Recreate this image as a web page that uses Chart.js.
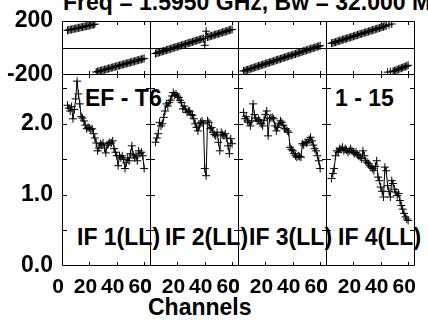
<!DOCTYPE html>
<html>
<head>
<meta charset="utf-8">
<script src="https://cdn.jsdelivr.net/npm/chart.js@4.4.1/dist/chart.umd.min.js"></script>
<style>
body { margin: 0; background: #fff; width: 428px; height: 320px; overflow: hidden; position: relative;
       font-family: 'Liberation Sans', Arial, sans-serif; font-weight: bold; color: #000; }
canvas { position: absolute; }
.lbl { position: absolute; font-size: 23px; line-height: 23px; white-space: nowrap; }
</style>
</head>
<body>
<div class="lbl" style="left:63px;top:-9px">Freq = 1.5950 GHz, Bw = 32.000 MHz</div>
<div class="lbl" style="left:85px;top:87px">EF - T6</div>
<div class="lbl" style="left:335px;top:87px">1 - 15</div>
<div class="lbl" id="if1" style="left:77px;top:226px"></div>
<div class="lbl" id="if2" style="left:165px;top:226px"></div>
<div class="lbl" id="if3" style="left:249px;top:226px"></div>
<div class="lbl" id="if4" style="left:338px;top:226px"></div>
<div class="lbl" style="left:148px;top:296px">Channels</div>
<script>
const channels = [4, 5, 6, 7, 8, 9, 10, 11, 12, 13, 14, 15, 16, 17, 18, 19, 20, 21, 22, 23, 24, 25, 26, 27, 28, 29, 30, 31, 32,
                  33, 34, 35, 36, 37, 38, 39, 40, 41, 42, 43, 44, 45, 46, 47, 48, 49, 50, 51, 52, 53, 54, 55, 56, 57, 58, 59, 60];

const ifNames = ['IF 1(LL)', 'IF 2(LL)', 'IF 3(LL)', 'IF 4(LL)'];

// phase in degrees, channel 4..60
const phaseIF1 = [131, 133, 136, 137, 140, 142, 145, 146, 149, 151, 154, 155, 158, 160, 163, 164, 167, 169, 172, 174, 177,
                  -178, -175, -172, -170, -166, -164, -161, -158, -155, -152, -150, -146, -144, -141, -138, -135, -132, -129,
                  -127, -123, -121, -118, -115, -112, -109, -107, -103, -101, -98, -95, -92, -89, -86, -84, -80, -77];
const phaseIF2 = [-41, -38, -35, -31, -28, -25, -22, -19, -15, -12, -9, -6, -3, 1, 4, 7, 10, 13, 17, 20, 23, 26, 29, 33, 36,
                  39, 42, 45, 49, 52, 55, 58, 61, 65, 68, 71, 20, 125, 81, 84, 87, 90, 93, 97, 100, 103, 106, 109, 113, 116,
                  119, 122, 125, 129, 132, 135, 138];
const phaseIF3 = [-171, -168, -164, -161, -158, -154, -151, -148, -144, -141, -137, -134, -131, -127, -124, -121, -117, -114,
                  -111, -107, -104, -101, -97, -94, -90, -87, -84, -80, -77, -74, -70, -67, -64, -60, -57, -54, -50, -47, -44,
                  -40, -37, -33, -30, -27, -23, -20, -17, -13, -10, -7, -3, 0, 3, 7, 10, 13, 17];
const phaseIF4 = [35, 38, 41, 44, 48, 51, 54, 57, 61, 64, 67, 70, 74, 77, 80, 83, 87, 90, 93, 96, 100, 103, 106, 109, 113, 116,
                  119, 122, 126, 129, 132, 135, 139, 142, 145, 148, 152, 155, 158, 161, 165, -179, 172, -176, 178, -172, -169,
                  -165, -161, -157, -153, -149, -145, -141, -137, -133, -128];

// amplitude, channel 4..60
const ampIF1 = [2.26, 2.22, 2.18, 2.24, 2.07, 2.20, 2.35, 2.60, 2.42, 2.28, 2.10, 2.08, 2.04, 1.98, 1.93, 1.95, 1.94, 1.92,
                1.93, 1.86, 1.80, 1.73, 1.62, 1.66, 1.72, 1.70, 1.73, 1.66, 1.59, 1.70, 1.72, 1.74, 1.73, 1.76, 1.65, 1.60,
                1.55, 1.41, 1.55, 1.52, 1.55, 1.50, 1.37, 1.45, 1.52, 1.48, 1.58, 1.69, 1.56, 1.52, 1.55, 1.48, 1.62, 1.58,
                1.60, 1.55, 1.37];
const ampIF2 = [1.74, 1.80, 1.86, 2.02, 1.97, 2.00, 2.09, 2.18, 2.28, 2.25, 2.30, 2.33, 2.39, 2.44, 2.40, 2.42, 2.39, 2.37,
                2.33, 2.30, 2.21, 2.25, 2.20, 2.16, 2.18, 2.18, 2.13, 2.12, 2.07, 2.00, 1.95, 1.90, 1.97, 2.02, 2.04, 2.00,
                1.37, 1.27, 2.04, 2.02, 1.93, 1.95, 1.88, 1.85, 1.83, 1.88, 1.74, 1.62, 1.88, 1.85, 1.83, 1.86, 1.80, 1.69,
                1.58, 1.79, 1.72];
const ampIF3 = [2.16, 2.07, 2.10, 2.04, 2.02, 1.97, 2.04, 2.28, 2.13, 2.08, 2.04, 2.06, 2.04, 2.00, 1.97, 2.05, 2.13, 2.18,
                1.83, 2.07, 2.08, 2.09, 2.07, 1.97, 1.90, 1.95, 2.00, 2.04, 2.02, 1.98, 1.93, 1.93, 1.90, 1.88, 1.67, 1.64,
                1.62, 1.58, 1.55, 1.53, 1.55, 1.54, 1.53, 1.72, 1.70, 1.74, 1.73, 1.74, 1.78, 1.81, 1.76, 1.70, 1.65, 1.62,
                1.55, 1.48, 1.37];
const ampIF4 = [1.23, 1.30, 1.37, 1.55, 1.62, 1.60, 1.65, 1.64, 1.67, 1.62, 1.65, 1.63, 1.60, 1.62, 1.65, 1.62, 1.60, 1.58,
                1.60, 1.57, 1.55, 1.53, 1.51, 1.62, 1.55, 1.48, 1.46, 1.44, 1.41, 1.39, 1.37, 1.34, 1.40, 1.48, 1.25, 1.20,
                1.11, 1.05, 0.97, 1.39, 1.34, 1.13, 1.05, 0.97, 1.20, 1.16, 1.08, 1.04, 0.99, 1.02, 0.92, 0.85, 0.80, 0.74,
                0.69, 0.66, 0.64];

const chanTicks = [0, 20, 40, 60];
const phaseTicks = [-200, 200];
const ampTicks = [0, 1, 2];
const ampMinorTicks = [0.5, 1, 1.5, 2, 2.5];

const phases = [phaseIF1, phaseIF2, phaseIF3, phaseIF4];
const amps = [ampIF1, ampIF2, ampIF3, ampIF4];

const FONT = { family: "'Liberation Sans', Arial, sans-serif", weight: 'bold', size: 23 };
const XFONT = { family: "'Liberation Sans', Arial, sans-serif", weight: 'bold', size: 21 };
const PAD = 24;
const colLeft = [62, 150, 238, 326];
const colW = 89;
const rows = [
    { top: 21, h: 54, min: -200, max: 200, ticks: phaseTicks, minor: [], zero: true, fmt: v => String(v) },
    { top: 74, h: 192, min: 0, max: 2.7, ticks: ampTicks, minor: ampMinorTicks, zero: false, fmt: v => v.toFixed(1) }
];
const YAXW = 62, XAXH = 30;

// box around each panel, inward tick marks, zero line for phase
const framePlugin = {
    id: 'frame',
    afterDraw(chart, args, o) {
        const { ctx, chartArea: a } = chart;
        const x = chart.scales.x, y = chart.scales.y;
        ctx.save();
        ctx.strokeStyle = '#000';
        ctx.lineWidth = 1;
        ctx.beginPath();
        ctx.rect(a.left + 0.5, a.top + 0.5, a.right - a.left - 1, a.bottom - a.top - 1);
        o.xMarks.forEach(v => {
            const px = Math.round(x.getPixelForValue(v)) + 0.5;
            ctx.moveTo(px, a.top); ctx.lineTo(px, a.top + 4);
            ctx.moveTo(px, a.bottom); ctx.lineTo(px, a.bottom - 4);
        });
        o.yMarks.forEach(v => {
            const py = Math.round(y.getPixelForValue(v)) + 0.5;
            ctx.moveTo(a.left, py); ctx.lineTo(a.left + 5, py);
            ctx.moveTo(a.right, py); ctx.lineTo(a.right - 5, py);
        });
        if (o.zero) {
            const py = Math.round(y.getPixelForValue(0)) + 0.5;
            ctx.moveTo(a.left, py); ctx.lineTo(a.right, py);
        }
        ctx.stroke();
        ctx.restore();
    }
};

function makePanel(col, r) {
    const row = rows[r];
    const isLeft = col === 0, isBottom = r === 1;
    const values = r === 0 ? phases[col] : amps[col];
    const cv = document.createElement('canvas');
    const w = colW + 2 * PAD + (isLeft ? YAXW : 0);
    const h = row.h + 2 * PAD + (isBottom ? XAXH : 0);
    cv.width = w; cv.height = h;
    cv.style.left = (colLeft[col] - PAD - (isLeft ? YAXW : 0)) + 'px';
    cv.style.top = (row.top - PAD) + 'px';
    document.body.appendChild(cv);

    new Chart(cv, {
        type: 'line',
        data: {
            datasets: [{
                data: channels.map((c, i) => ({ x: c, y: values[i] })),
                borderColor: '#000',
                borderWidth: 1,
                tension: 0,
                pointStyle: 'cross',
                pointRadius: 4,
                pointBorderWidth: 1,
                pointBorderColor: '#000',
                segment: {
                    // no line across a phase wrap
                    borderColor: ctx => Math.abs(ctx.p1.parsed.y - ctx.p0.parsed.y) > 180 ? 'rgba(0,0,0,0)' : '#000'
                }
            }]
        },
        options: {
            responsive: false,
            animation: false,
            devicePixelRatio: 1,
            layout: { padding: PAD },
            plugins: {
                legend: { display: false },
                tooltip: { enabled: false },
                frame: { xMarks: [20, 40, 60], yMarks: row.minor, zero: row.zero }
            },
            scales: {
                x: {
                    type: 'linear', min: 0, max: 65,
                    display: isBottom,
                    grid: { display: false, drawTicks: false },
                    border: { display: false },
                    afterBuildTicks: s => { s.ticks = chanTicks.map(v => ({ value: v })); },
                    afterFit: s => { if (isBottom) s.height = XAXH; },
                    ticks: { autoSkip: false, maxRotation: 0, color: '#000', font: XFONT, padding: 9, labelOffset: -4 }
                },
                y: {
                    type: 'linear', min: row.min, max: row.max,
                    display: isLeft,
                    grid: { display: false, drawTicks: false },
                    border: { display: false },
                    afterBuildTicks: s => { s.ticks = row.ticks.map(v => ({ value: v })); },
                    afterFit: s => { if (isLeft) s.width = YAXW; },
                    ticks: { autoSkip: false, color: '#000', font: FONT, padding: 9, callback: row.fmt }
                }
            }
        },
        plugins: [framePlugin]
    });
}

for (let r = 0; r < 2; r++) {
    for (let c = 0; c < 4; c++) makePanel(c, r);
}
ifNames.forEach((n, i) => { document.getElementById('if' + (i + 1)).textContent = n; });
</script>
</body>
</html>
